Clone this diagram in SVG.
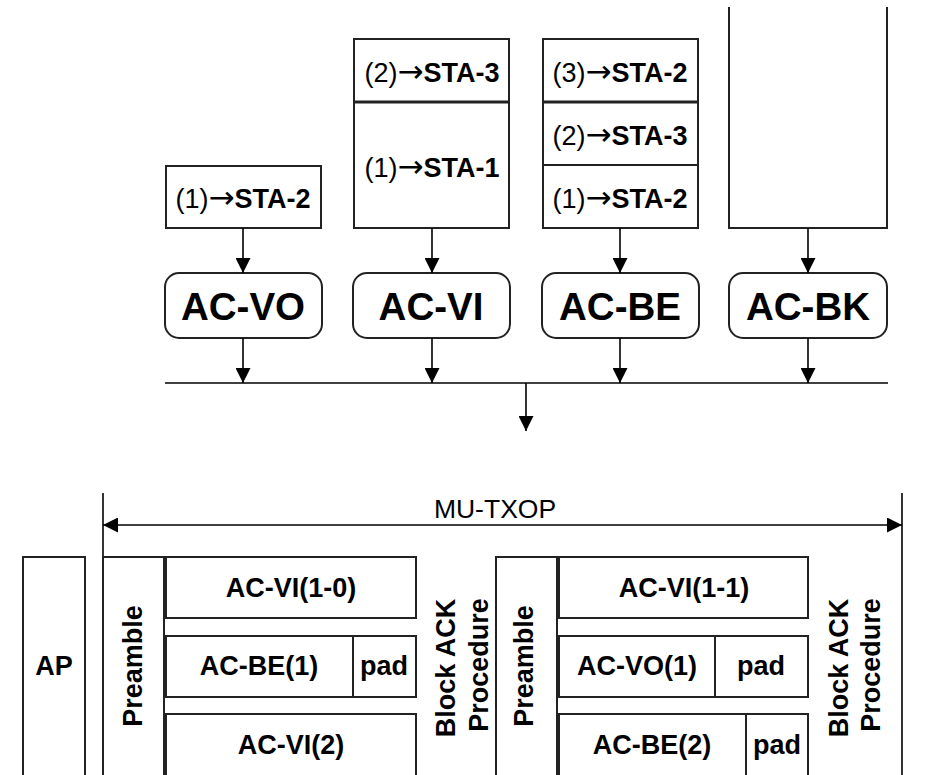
<svg xmlns="http://www.w3.org/2000/svg" width="927" height="775" viewBox="0 0 927 775">
  <defs>
    <marker id="tri" markerWidth="15" markerHeight="15" viewBox="0 0 15 15" refX="15" refY="7.5" orient="auto" markerUnits="userSpaceOnUse">
      <path d="M0,0 L15,7.5 L0,15 Z" fill="#000"/>
    </marker>
    <style>
      .q { fill: #fff; stroke: #222; stroke-width: 2; }
      .cell { fill: #fff; stroke: #222; stroke-width: 2; }
      .ac { fill: #fff; stroke: #222; stroke-width: 2; }
      .ln { fill: none; stroke: #000; stroke-width: 1.6; }
      .arr { fill: none; stroke: #000; stroke-width: 1.6; marker-end: url(#tri); }
      .t { font-family: "Liberation Sans", Arial, sans-serif; fill: #000; }
      .qt { font-size: 27px; text-anchor: middle; }
      .b { font-weight: bold; }
      .ar { font-family: "DejaVu Sans", sans-serif; font-size: 31px; }
      .act { font-size: 38.5px; font-weight: bold; text-anchor: middle; }
      .ct { font-size: 27px; font-weight: bold; text-anchor: middle; }
      .rt { font-size: 27px; font-weight: bold; text-anchor: middle; }
    </style>
  </defs>

  <!-- Per-category frame queues -->
  <g id="queue-vo">
    <rect class="q" x="166" y="166" width="155" height="62"/>
    <text class="t qt" x="243" y="208">(1)<tspan class="ar">→</tspan><tspan class="b">STA-2</tspan></text>
  </g>
  <g id="queue-vi">
    <rect class="q" x="354" y="39" width="155" height="189"/>
    <line x1="354" y1="102" x2="509" y2="102" stroke="#222" stroke-width="3"/>
    <text class="t qt" x="432" y="82">(2)<tspan class="ar">→</tspan><tspan class="b">STA-3</tspan></text>
    <text class="t qt" x="432" y="177">(1)<tspan class="ar">→</tspan><tspan class="b">STA-1</tspan></text>
  </g>
  <g id="queue-be">
    <rect class="q" x="543" y="39" width="155" height="189"/>
    <line x1="543" y1="102" x2="698" y2="102" stroke="#222" stroke-width="3"/>
    <line x1="543" y1="165" x2="698" y2="165" stroke="#222" stroke-width="2"/>
    <text class="t qt" x="620" y="82">(3)<tspan class="ar">→</tspan><tspan class="b">STA-2</tspan></text>
    <text class="t qt" x="620" y="145">(2)<tspan class="ar">→</tspan><tspan class="b">STA-3</tspan></text>
    <text class="t qt" x="620" y="208">(1)<tspan class="ar">→</tspan><tspan class="b">STA-2</tspan></text>
  </g>
  <g id="queue-bk">
    <path d="M729,7 V228 H887 V7" fill="none" stroke="#222" stroke-width="2"/>
  </g>

  <!-- Access categories -->
  <g id="ac-vo">
    <rect class="ac" x="165" y="273" width="157" height="65" rx="14"/>
    <text class="t act" x="243" y="320">AC-VO</text>
  </g>
  <g id="ac-vi">
    <rect class="ac" x="353" y="273" width="157" height="65" rx="14"/>
    <text class="t act" x="431" y="320">AC-VI</text>
  </g>
  <g id="ac-be">
    <rect class="ac" x="542" y="273" width="157" height="65" rx="14"/>
    <text class="t act" x="620" y="320">AC-BE</text>
  </g>
  <g id="ac-bk">
    <rect class="ac" x="729" y="273" width="158" height="65" rx="14"/>
    <text class="t act" x="808" y="320">AC-BK</text>
  </g>

  <!-- Connectors -->
  <g id="connectors">
    <line class="arr" x1="243" y1="228" x2="243" y2="273"/>
    <line class="arr" x1="432" y1="228" x2="432" y2="273"/>
    <line class="arr" x1="620" y1="228" x2="620" y2="273"/>
    <line class="arr" x1="808" y1="228" x2="808" y2="273"/>
    <line class="arr" x1="243" y1="338" x2="243" y2="383"/>
    <line class="arr" x1="432" y1="338" x2="432" y2="383"/>
    <line class="arr" x1="620" y1="338" x2="620" y2="383"/>
    <line class="arr" x1="808" y1="338" x2="808" y2="383"/>
    <line class="ln" x1="165" y1="383" x2="888" y2="383"/>
    <line class="arr" x1="526" y1="383" x2="526" y2="431"/>
  </g>

  <!-- MU-TXOP span -->
  <g id="mu-txop">
    <line class="ln" x1="103" y1="493" x2="103" y2="775"/>
    <line class="ln" x1="902" y1="493" x2="902" y2="775"/>
    <line class="ln" x1="495" y1="525" x2="103" y2="525" style="marker-end:url(#tri)"/>
    <line class="ln" x1="495" y1="525" x2="902" y2="525" style="marker-end:url(#tri)"/>
    <text class="t" x="495" y="518" font-size="26.5" text-anchor="middle">MU-TXOP</text>
  </g>

  <!-- Transmission timeline -->
  <g id="ap">
    <rect class="cell" x="23" y="557" width="62" height="225"/>
    <text class="t ct" x="54" y="675">AP</text>
  </g>
  <g id="preamble-1">
    <rect class="cell" x="103" y="557" width="61" height="225"/>
    <text class="t rt" transform="translate(142,666) rotate(-90)">Preamble</text>
  </g>
  <g id="ppdu-1">
    <rect class="cell" x="166" y="557" width="250" height="61"/>
    <text class="t ct" x="291" y="597">AC-VI(1-0)</text>
    <rect class="cell" x="166" y="636" width="187" height="61"/>
    <text class="t ct" x="259" y="675">AC-BE(1)</text>
    <rect class="cell" x="353" y="636" width="63" height="61"/>
    <text class="t ct" x="384" y="675">pad</text>
    <rect class="cell" x="166" y="714" width="250" height="68"/>
    <text class="t ct" x="291" y="754">AC-VI(2)</text>
  </g>
  <g id="back-1">
    <text class="t rt" transform="translate(455,668) rotate(-90)">Block ACK</text>
    <text class="t rt" transform="translate(488,665) rotate(-90)">Procedure</text>
  </g>
  <g id="preamble-2">
    <rect class="cell" x="496" y="557" width="61" height="225"/>
    <text class="t rt" transform="translate(533,666) rotate(-90)">Preamble</text>
  </g>
  <g id="ppdu-2">
    <rect class="cell" x="559" y="557" width="249" height="61"/>
    <text class="t ct" x="684" y="597">AC-VI(1-1)</text>
    <rect class="cell" x="559" y="636" width="156" height="61"/>
    <text class="t ct" x="637" y="675">AC-VO(1)</text>
    <rect class="cell" x="715" y="636" width="93" height="61"/>
    <text class="t ct" x="761" y="675">pad</text>
    <rect class="cell" x="559" y="714" width="187" height="68"/>
    <text class="t ct" x="652" y="754">AC-BE(2)</text>
    <rect class="cell" x="746" y="714" width="62" height="68"/>
    <text class="t ct" x="777" y="754">pad</text>
  </g>
  <g id="back-2">
    <text class="t rt" transform="translate(848,668) rotate(-90)">Block ACK</text>
    <text class="t rt" transform="translate(880,665) rotate(-90)">Procedure</text>
  </g>
</svg>
